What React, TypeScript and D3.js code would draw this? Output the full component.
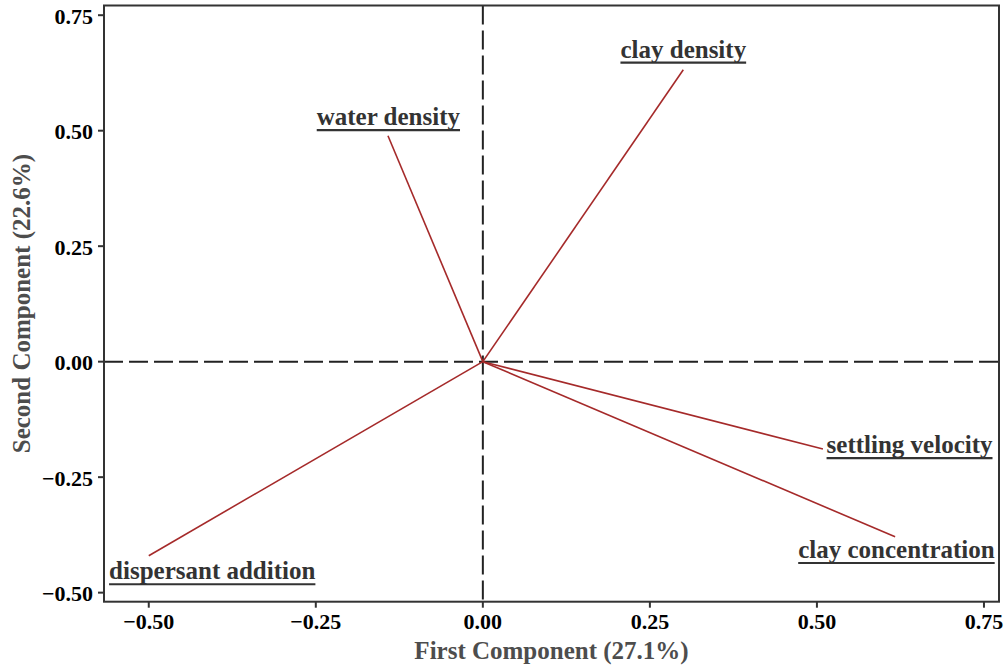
import React, { useEffect, useRef } from "react";
import * as d3 from "d3";

const variables = [
  "dispersant addition",
  "water density",
  "clay density",
  "settling velocity",
  "clay concentration",
];
const pc1 = [-0.5, -0.142, 0.3, 0.509, 0.617];
const pc2 = [-0.42, 0.489, 0.632, -0.189, -0.379];
const labelPc1 = [-0.405, -0.1414, 0.3, 0.6386, 0.619];
const labelPc2 = [-0.471, 0.512, 0.658, -0.198, -0.425];
const xTicks = [-0.5, -0.25, 0, 0.25, 0.5, 0.75];
const yTicks = [-0.5, -0.25, 0, 0.25, 0.5, 0.75];
const xTitle = "First Component (27.1%)";
const yTitle = "Second Component (22.6%)";

const W = 1006;
const H = 669;
const FONT = "'Liberation Serif', 'Times New Roman', serif";

export default function App() {
  const ref = useRef<SVGSVGElement | null>(null);

  useEffect(() => {
    const svg = d3.select(ref.current);
    svg.selectAll("*").remove();

    const left = 104, right = 999, top = 5.5, bottom = 601.7;
    const x = d3.scaleLinear().domain([-0.567, 0.7725]).range([left, right]);
    const y = d3.scaleLinear().domain([-0.5196, 0.771]).range([bottom, top]);

    // reference lines
    svg.append("line")
      .attr("x1", x(0)).attr("x2", x(0)).attr("y1", top).attr("y2", bottom)
      .attr("stroke", "#222").attr("stroke-width", 2).attr("stroke-dasharray", "19,6");
    svg.append("line")
      .attr("x1", left).attr("x2", right).attr("y1", y(0)).attr("y2", y(0))
      .attr("stroke", "#222").attr("stroke-width", 2).attr("stroke-dasharray", "19,6");

    // vectors
    svg.append("g").selectAll("line").data(variables).join("line")
      .attr("x1", x(0)).attr("y1", y(0))
      .attr("x2", (_d, i) => x(pc1[i]))
      .attr("y2", (_d, i) => y(pc2[i]))
      .attr("stroke", "#a52a2a").attr("stroke-width", 1.6);

    // labels
    const lg = svg.append("g");
    variables.forEach((v, i) => {
      const t = lg.append("text")
        .attr("x", x(labelPc1[i])).attr("y", y(labelPc2[i]))
        .attr("text-anchor", "middle")
        .attr("font-family", FONT).attr("font-weight", "bold")
        .attr("font-size", 25).attr("fill", "#333")
        .text(v);
      const len = (t.node() as SVGTextElement).getComputedTextLength();
      const cx = x(labelPc1[i]);
      lg.append("line")
        .attr("x1", cx - len / 2).attr("x2", cx + len / 2)
        .attr("y1", y(labelPc2[i]) + 5).attr("y2", y(labelPc2[i]) + 5)
        .attr("stroke", "#333").attr("stroke-width", 2.2);
    });

    // frame
    svg.append("rect")
      .attr("x", left).attr("y", top).attr("width", right - left).attr("height", bottom - top)
      .attr("fill", "none").attr("stroke", "#333").attr("stroke-width", 2);

    // x axis
    const gx = svg.append("g");
    xTicks.forEach((t) => {
      gx.append("line").attr("x1", x(t)).attr("x2", x(t)).attr("y1", bottom).attr("y2", bottom + 6)
        .attr("stroke", "#333").attr("stroke-width", 2);
      gx.append("text").attr("x", x(t)).attr("y", 629)
        .attr("text-anchor", "middle").attr("font-family", FONT).attr("font-weight", "bold")
        .attr("font-size", 22).attr("fill", "#000")
        .text(d3.format(".2f")(t));
    });
    // y axis
    const gy = svg.append("g");
    yTicks.forEach((t) => {
      gy.append("line").attr("x1", left - 6).attr("x2", left).attr("y1", y(t)).attr("y2", y(t))
        .attr("stroke", "#333").attr("stroke-width", 2);
      gy.append("text").attr("x", 93).attr("y", y(t) + 8.5)
        .attr("text-anchor", "end").attr("font-family", FONT).attr("font-weight", "bold")
        .attr("font-size", 22).attr("fill", "#000")
        .text(d3.format(".2f")(t));
    });

    svg.append("text").attr("x", (left + right) / 2).attr("y", 659)
      .attr("text-anchor", "middle").attr("font-family", FONT).attr("font-weight", "bold")
      .attr("font-size", 25).attr("fill", "#4d4d4d").text(xTitle);
    svg.append("text")
      .attr("transform", `translate(30,${(top + bottom) / 2}) rotate(-90)`)
      .attr("text-anchor", "middle").attr("font-family", FONT).attr("font-weight", "bold")
      .attr("font-size", 25).attr("fill", "#4d4d4d").text(yTitle);
  }, []);

  return (
    <div style={{ position: "absolute", left: 0, top: 0, width: W, height: H, background: "#fff" }}>
      <svg ref={ref} width={W} height={H} style={{ display: "block" }} />
    </div>
  );
}
